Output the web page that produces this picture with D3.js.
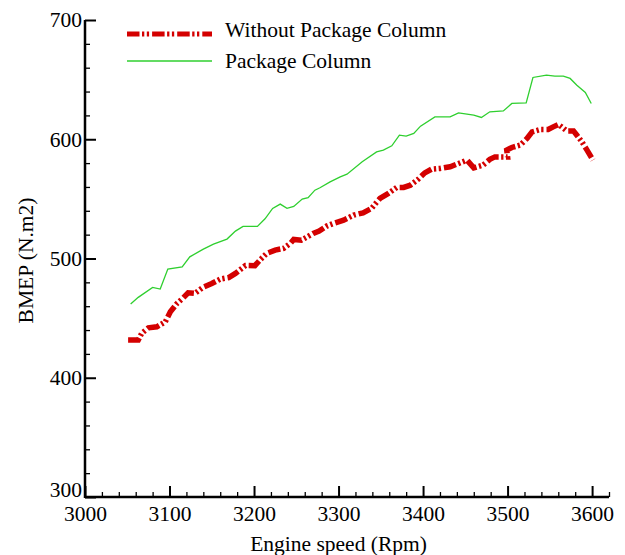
<!DOCTYPE html>
<html>
<head>
<meta charset="utf-8">
<script src="https://cdn.jsdelivr.net/npm/d3@7"></script>
<style>
  body { margin: 0; background: #fff; }
  svg { display: block; font-family: "Liberation Serif", "Times New Roman", serif; }
</style>
</head>
<body>
<svg id="canvas" width="625" height="555"></svg>
<script>

// engine speed (rpm) / BMEP
var rpmWithout = [3051, 3063, 3067, 3075, 3085, 3095, 3101, 3109, 3116, 3122, 3130, 3140, 3150, 3160, 3170, 3178,
    3190, 3201, 3207, 3215, 3225, 3235, 3243, 3247, 3256, 3262, 3270, 3277, 3286, 3294, 3306, 3318, 3329, 3339,
    3349, 3359, 3369, 3377, 3385, 3394, 3402, 3410, 3420, 3432, 3442, 3452, 3460, 3471, 3479, 3485, 3500, 3499,
    3505, 3515, 3523, 3529, 3539, 3548, 3554, 3560, 3564, 3570, 3578, 3582, 3588, 3594, 3601];
var bmepWithout = [431.6, 431.6, 437.2, 441.9, 442.7, 446.9, 455.3, 462.4, 466.8, 471.2, 470.7, 476.0, 479.0, 482.7,
    484.0, 487.5, 494.2, 494.0, 498.7, 504.3, 507.0, 508.5, 512.7, 516.0, 515.4, 517.7, 521.0, 523.0, 527.2, 529.4,
    532.2, 536.4, 538.3, 542.0, 550.4, 554.6, 559.6, 559.6, 561.5, 566.3, 571.8, 574.9, 575.5, 576.9, 579.7, 582.5,
    576.0, 578.3, 583.1, 585.2, 585.2, 590.9, 593.1, 595.1, 600.7, 606.2, 608.2, 608.2, 610.4, 612.4, 610.4, 607.0,
    607.0, 603.4, 597.8, 590.9, 582.5];

var rpmPackage = [3054, 3063, 3080, 3089, 3098, 3115, 3124, 3140, 3152, 3168, 3178, 3187, 3204, 3213, 3222, 3231,
    3239, 3247, 3257, 3264, 3272, 3278, 3290, 3302, 3310, 3328, 3345, 3353, 3363, 3372, 3380, 3389, 3397, 3414,
    3432, 3442, 3460, 3469, 3479, 3495, 3505, 3522, 3530, 3546, 3556, 3566, 3574, 3582, 3592, 3599];
var bmepPackage = [461.8, 467.4, 475.8, 474.4, 491.1, 493.0, 501.4, 507.9, 512.1, 516.3, 523.0, 526.9, 526.9, 533.3,
    542.0, 545.6, 542.0, 543.7, 549.8, 551.0, 557.3, 559.3, 564.3, 568.5, 570.7, 581.1, 589.4, 590.9, 594.5, 603.4,
    602.6, 604.9, 611.0, 618.8, 618.8, 622.1, 620.2, 618.3, 623.0, 623.8, 630.0, 630.5, 651.8, 653.7, 652.9, 652.9,
    651.0, 645.3, 639.2, 630.0];

var xTicks = [3000, 3100, 3200, 3300, 3400, 3500, 3600];
var yTicks = [300, 400, 500, 600, 700];
var seriesNames = ['Without Package Column', 'Package Column'];

var fontSize = 21.5;

var svg = d3.select('#canvas');

var x = d3.scaleLinear().domain([3000, 3620]).range([85, 609]);
var y = d3.scaleLinear().domain([300, 700]).range([497, 20]);

var xMinor = d3.range(3000, 3621, 20).filter(function(d) { return d % 100 !== 0; });
var yMinor = d3.range(300, 701, 20).filter(function(d) { return d % 100 !== 0; });

// x axis, ticks pointing inward
svg.append('g').attr('transform', 'translate(0,497)')
    .call(d3.axisBottom(x).tickValues(xMinor).tickSize(-5).tickFormat(''))
    .selectAll('line').attr('stroke-width', 1.3);
var xMajor = svg.append('g').attr('transform', 'translate(0,497)')
    .call(d3.axisBottom(x).tickValues(xTicks).tickSize(-11).tickFormat(d3.format('d')));
xMajor.selectAll('line').attr('stroke-width', 2);
xMajor.selectAll('text')
    .attr('font-size', fontSize).attr('font-family', 'Liberation Serif').attr('fill', '#000')
    .attr('y', 24).attr('dy', 0);

svg.append('g').attr('transform', 'translate(85,0)')
    .call(d3.axisLeft(y).tickValues(yMinor).tickSize(-5).tickFormat(''))
    .selectAll('line').attr('stroke-width', 1.3);
var yMajor = svg.append('g').attr('transform', 'translate(85,0)')
    .call(d3.axisLeft(y).tickValues(yTicks).tickSize(-11).tickPadding(3).tickFormat(d3.format('d')));
yMajor.selectAll('line').attr('stroke-width', 2);
yMajor.selectAll('text')
    .attr('font-size', fontSize).attr('font-family', 'Liberation Serif').attr('fill', '#000')
    .attr('y', function(d) { return d === 300 ? -7 : 0; });
svg.selectAll('.domain').remove();

// axis lines
svg.append('line')
    .attr('x1', x(3000)).attr('x2', x(3620))
    .attr('y1', y(300)).attr('y2', y(300))
    .attr('stroke', '#000').attr('stroke-width', 2.5);
svg.append('line')
    .attr('x1', x(3000)).attr('x2', x(3000))
    .attr('y1', y(300) + 1).attr('y2', y(700))
    .attr('stroke', '#000').attr('stroke-width', 2.5);

// axis titles
svg.append('text')
    .attr('x', x(3300)).attr('y', 551)
    .attr('text-anchor', 'middle')
    .attr('font-size', fontSize)
    .text('Engine speed (Rpm)');
svg.append('text')
    .attr('transform', 'translate(33,' + (y(500) + 2) + ') rotate(-90)')
    .attr('text-anchor', 'middle')
    .attr('font-size', fontSize)
    .text('BMEP (N.m2)');

var line = d3.line()
    .x(function(d) { return x(d[0]); })
    .y(function(d) { return y(d[1]); });

var redDash = '12.5,2.5,2.3,2.5,2.3,3';

svg.append('path')
    .datum(d3.zip(rpmPackage, bmepPackage))
    .attr('d', line)
    .attr('fill', 'none')
    .attr('stroke', '#2fcf2f')
    .attr('stroke-width', 1.3);

svg.append('path')
    .datum(d3.zip(rpmWithout, bmepWithout))
    .attr('d', line)
    .attr('fill', 'none')
    .attr('stroke', '#d40000')
    .attr('stroke-width', 5.5)
    .attr('stroke-dasharray', redDash);

// legend
var legend = svg.append('g');
legend.append('line')
    .attr('x1', 127).attr('x2', 212).attr('y1', 34).attr('y2', 34)
    .attr('stroke', '#d40000').attr('stroke-width', 5).attr('stroke-dasharray', redDash);
legend.append('line')
    .attr('x1', 127).attr('x2', 212).attr('y1', 61).attr('y2', 61)
    .attr('stroke', '#2fcf2f').attr('stroke-width', 1.3);
legend.selectAll('text')
    .data(seriesNames)
    .enter()
    .append('text')
    .attr('x', 225)
    .attr('y', function(d, i) { return 37 + i * 31; })
    .attr('font-size', fontSize)
    .text(function(d) { return d; });

</script>
</body>
</html>
